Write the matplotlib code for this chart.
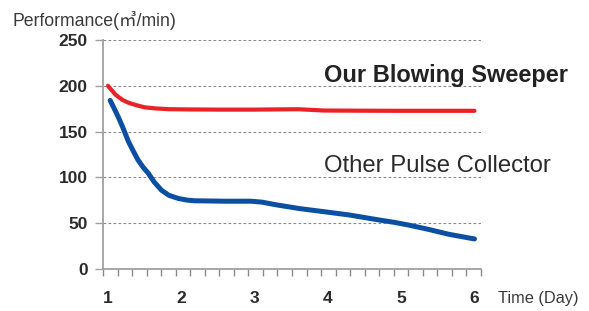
import numpy as np
import matplotlib
matplotlib.use("Agg")
import matplotlib.pyplot as plt

# ---- data ----
red_days = [1.0, 1.03, 1.07, 1.1, 1.14, 1.2, 1.28, 1.38, 1.5, 1.65, 1.82, 2.1, 2.5,
            3.0, 3.4, 3.6, 3.8, 3.95, 4.5, 5.0, 5.5, 6.0]
red_vals = [200, 197, 193.5, 190.5, 188, 184.5, 181.5, 179, 176.5, 175.3, 174.5, 174.2, 174,
            174, 174.3, 174.4, 173.6, 173, 172.8, 172.7, 172.7, 172.7]

blue_days = [1.03, 1.08, 1.14, 1.2, 1.28, 1.35, 1.41, 1.48, 1.55, 1.63, 1.73, 1.83,
             1.96, 2.08, 2.18, 2.6, 2.95, 3.1, 3.3, 3.61, 4.0, 4.29, 4.70, 4.9,
             5.10, 5.37, 5.65, 5.85, 6.0]
blue_vals = [184, 176, 166, 155, 139, 128, 119, 111, 104.5, 95, 86, 80.5,
             77, 75.2, 74.5, 74, 74, 73, 70, 66, 62, 59, 53.5, 51,
             48, 43.3, 37.9, 35, 32.8]

x_ticks = [1, 2, 3, 4, 5, 6]
y_ticks = [0, 50, 100, 150, 200, 250]

red_label = "Our Blowing Sweeper"
blue_label = "Other Pulse Collector"
y_title = "Performance(㎥/min)"
x_title = "Time (Day)"

W, H = 589, 311
fig = plt.figure(figsize=(W / 100, H / 100), dpi=100)
ax = fig.add_axes([103 / W, 42 / H, 378 / W, 229 / H])

xmin, xmax = 0.932, 6.089
ax.set_xlim(xmin, xmax)
ax.set_ylim(0, 250)

# grid
for v in y_ticks[1:]:
    ax.axhline(v, color="#8a8a8a", lw=0.8, ls=(0, (2.5, 2.0)), zorder=1)

ax.plot(red_days, red_vals, color="#ec2027", lw=3.0, solid_capstyle="round",
        solid_joinstyle="round", zorder=3)
ax.plot(blue_days, blue_vals, color="#0b4fa3", lw=3.6, solid_capstyle="round",
        solid_joinstyle="round", zorder=3)

for s in ["top", "right"]:
    ax.spines[s].set_visible(False)
for s in ["left", "bottom"]:
    ax.spines[s].set_color("#a0a0a0")
    ax.spines[s].set_linewidth(1.3)

tick_font = dict(family=["Liberation Sans", "DejaVu Sans"], weight="bold", size=12.5)
ax.set_yticks(y_ticks)
ax.set_yticklabels([str(v) for v in y_ticks], fontdict=tick_font, color="#2b2b2b")
ax.tick_params(axis="y", length=6, width=1.0, color="#a0a0a0", pad=5)

ax.set_xticks(x_ticks)
ax.set_xticklabels([str(v) for v in x_ticks], fontdict=tick_font, color="#2b2b2b")
ax.tick_params(axis="x", which="major", length=0, pad=16)
ax.set_xticks(np.linspace(xmin, xmax, 27), minor=True)
ax.tick_params(axis="x", which="minor", length=5, width=1.0, color="#8a8a8a")

fam = ["Liberation Sans", "Noto Sans CJK KR", "DejaVu Sans"]
fig.text(12 / W, 1 - 26 / H, y_title, family=fam, size=12.7, color="#3a3a3a",
         ha="left", va="baseline")
fig.text(324 / W, 1 - 82 / H, red_label, family=fam, weight="bold", size=17,
         color="#222222", ha="left", va="baseline")
fig.text(324 / W, 1 - 172.5 / H, blue_label, family=fam, size=17.2,
         color="#2a2a2a", ha="left", va="baseline")
fig.text(498 / W, 1 - 303 / H, x_title, family=fam, size=11.8, color="#3a3a3a",
         ha="left", va="baseline")

fig.savefig("out.png", dpi=100)
